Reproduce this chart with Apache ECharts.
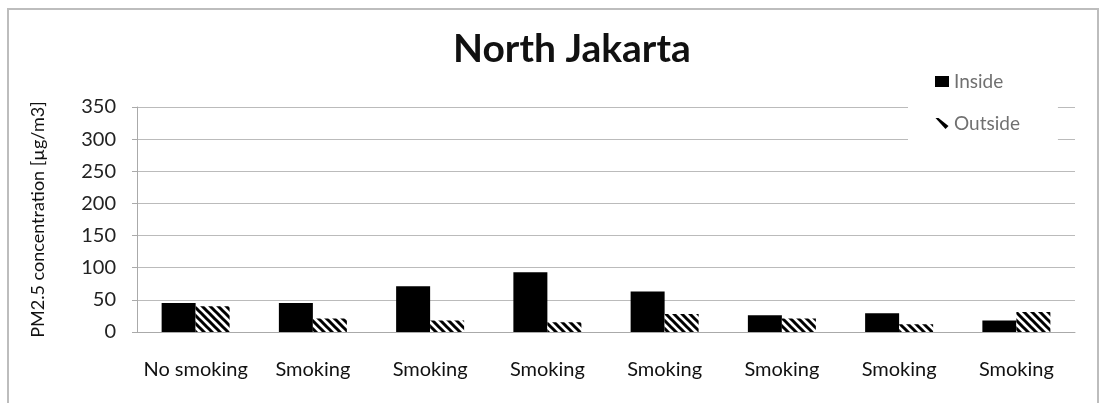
<!DOCTYPE html>
<html>
<head>
<meta charset="utf-8">
<script src="https://cdn.jsdelivr.net/npm/echarts@6/dist/echarts.min.js"></script>
<style>
  html, body { margin: 0; padding: 0; background: #fff; overflow: hidden; }
  #frame { position: absolute; left: 7px; top: 8px; width: 1092px; height: 430px;
           border: 2px solid #bdbdbd; box-sizing: border-box; }
  #chart { position: absolute; left: 0; top: 0; width: 1103px; height: 403px; }
</style>
</head>
<body>
<div id="frame"></div>
<div id="chart"></div>
<script>
// PM2.5 readings, North Jakarta venues
const categories = ['No smoking', 'Smoking', 'Smoking', 'Smoking', 'Smoking', 'Smoking', 'Smoking', 'Smoking'];
const insideValues = [45, 45, 71, 93, 63, 26, 29, 18];
const outsideValues = [40, 21, 18, 15, 28, 21, 12, 31];
const yTicks = [0, 50, 100, 150, 200, 250, 300, 350];

// diagonal hatch fill for the outdoor series
function hatchPattern() {
  const c = document.createElement('canvas');
  c.width = 8; c.height = 8;
  const g = c.getContext('2d');
  g.fillStyle = '#fff';
  g.fillRect(0, 0, 8, 8);
  g.strokeStyle = '#000';
  g.lineWidth = 3;
  g.beginPath();
  g.moveTo(-2, -2); g.lineTo(10, 10);
  g.moveTo(-10, -2); g.lineTo(2, 10);
  g.moveTo(6, -2); g.lineTo(18, 10);
  g.stroke();
  return c;
}

const font = 'Lato, "Open Sans", sans-serif';
const chart = echarts.init(document.getElementById('chart'), null, { renderer: 'canvas' });

chart.setOption({
  animation: false,
  backgroundColor: 'transparent',
  title: {
    text: 'North Jakarta',
    left: 448, top: 25,
    textStyle: { fontFamily: font, fontSize: 39, fontWeight: 'bold', color: '#111' }
  },
  legend: {
    orient: 'vertical',
    left: 908, top: 60,
    padding: [12, 38, 14, 27],
    backgroundColor: '#fff',
    itemWidth: 14, itemHeight: 11, itemGap: 23,
    textStyle: { fontFamily: font, fontSize: 19, color: '#707070' },
    data: [
      { name: 'Inside', icon: 'rect', itemStyle: { color: '#000' } },
      { name: 'Outside', icon: 'path://M1,0 L4,0 L14,8 L11,11 Z', itemStyle: { color: '#000' } }
    ],
    z: 10
  },
  grid: { left: 137, right: 28, top: 107, bottom: 71, containLabel: false },
  xAxis: {
    type: 'category',
    data: categories,
    axisLine: { lineStyle: { color: '#aaa', width: 1 } },
    axisTick: { show: false },
    axisLabel: { fontFamily: font, fontSize: 20, color: '#111', margin: 28, interval: 0 }
  },
  yAxis: {
    type: 'value',
    min: yTicks[0], max: yTicks[yTicks.length - 1], interval: 50,
    name: 'PM2.5 concentration [µg/m3]',
    nameLocation: 'middle', nameGap: 90,
    nameTextStyle: { fontFamily: font, fontSize: 18, color: '#111' },
    axisLine: { show: true, lineStyle: { color: '#aaa' } },
    axisTick: { show: true, length: 5, lineStyle: { color: '#aaa' } },
    axisLabel: { fontFamily: font, fontSize: 20, color: '#222', margin: 21 },
    splitLine: { lineStyle: { color: '#bbb', width: 1 } }
  },
  series: [
    {
      name: 'Inside', type: 'bar', data: insideValues,
      barWidth: 34, barGap: '0%',
      itemStyle: { color: '#000' }
    },
    {
      name: 'Outside', type: 'bar', data: outsideValues,
      barWidth: 34,
      itemStyle: { color: { image: hatchPattern(), repeat: 'repeat' } }
    }
  ]
});
</script>
</body>
</html>
